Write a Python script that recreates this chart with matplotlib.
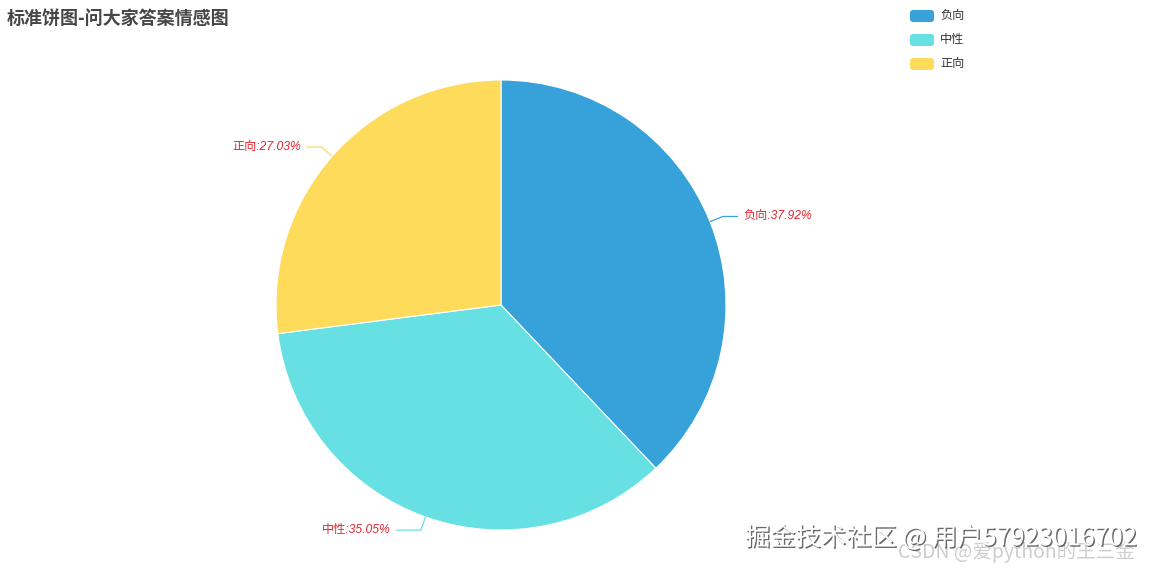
import numpy as np
import matplotlib
matplotlib.use("Agg")
import matplotlib.pyplot as plt
import matplotlib.patheffects as pe
from matplotlib.patches import FancyBboxPatch

plt.rcParams['font.family'] = ['Noto Sans CJK SC', 'DejaVu Sans']

title = "标准饼图-问大家答案情感图"
categories = ["负向", "中性", "正向"]
values = [37.92, 35.05, 27.03]
colors = ["#37A2DA", "#67E0E3", "#FFDB5C"]

W, H = 1152, 570
fig = plt.figure(figsize=(W / 100, H / 100), dpi=100)
ax = fig.add_axes([0, 0, 1, 1])

cx, cy, r = 501, H - 305, 225
wedges, _ = ax.pie(values, colors=colors, startangle=90, counterclock=False,
                   center=(cx, cy), radius=r, frame=True,
                   wedgeprops=dict(linewidth=0.8, edgecolor='white'))
ax.set_xlim(0, W)
ax.set_ylim(0, H)
ax.set_aspect('equal')
ax.axis('off')

label_color = "#E0262F"
for w, cat, v, col in zip(wedges, categories, values, colors):
    ang = np.deg2rad((w.theta1 + w.theta2) / 2)
    x0, y0 = cx + r * np.cos(ang), cy + r * np.sin(ang)
    x1, y1 = cx + (r + 14) * np.cos(ang), cy + (r + 14) * np.sin(ang)
    side = 1 if np.cos(ang) >= 0 else -1
    hl = 15 if abs(np.cos(ang)) > 0.5 else 25
    x2 = x1 + side * hl
    ax.plot([x0, x1, x2], [y0, y1, y1], color=col, lw=0.9, solid_capstyle='butt')
    ax.text(x2 + side * 5, y1, f"{cat}:{v:.2f}%", color=label_color, fontsize=8.7,
            style='italic', family=['Liberation Sans', 'Noto Sans CJK SC'],
            ha='left' if side > 0 else 'right', va='center')

# title
fig.text(7 / W, 1 - 18 / H, title, fontsize=13, fontweight='bold', color='#464646',
         ha='left', va='center')

# legend
for i, (cat, col) in enumerate(zip(categories, colors)):
    yc = H - (16 + 24 * i)
    box = FancyBboxPatch((910, yc - 6), 24, 12, boxstyle="round,pad=0,rounding_size=3",
                         facecolor=col, edgecolor='none')
    ax.add_patch(box)
    ax.text(940, yc, cat, fontsize=8.7, color='#333333', ha='left', va='center')

# watermarks
ax.text(1135, H - 552, "CSDN @爱python的王三金", fontsize=14, color='#c8c8c8',
        ha='right', va='center', alpha=0.9)
ax.text(745, H - 538, "掘金技术社区 @ 用户57923016702", fontsize=18.2, color='white',
        ha='left', va='center',
        path_effects=[pe.SimplePatchShadow(offset=(1, -1), shadow_rgbFace='#444444', alpha=0.8),
                      pe.Normal()])

fig.savefig("out.png", dpi=100, facecolor='white')
